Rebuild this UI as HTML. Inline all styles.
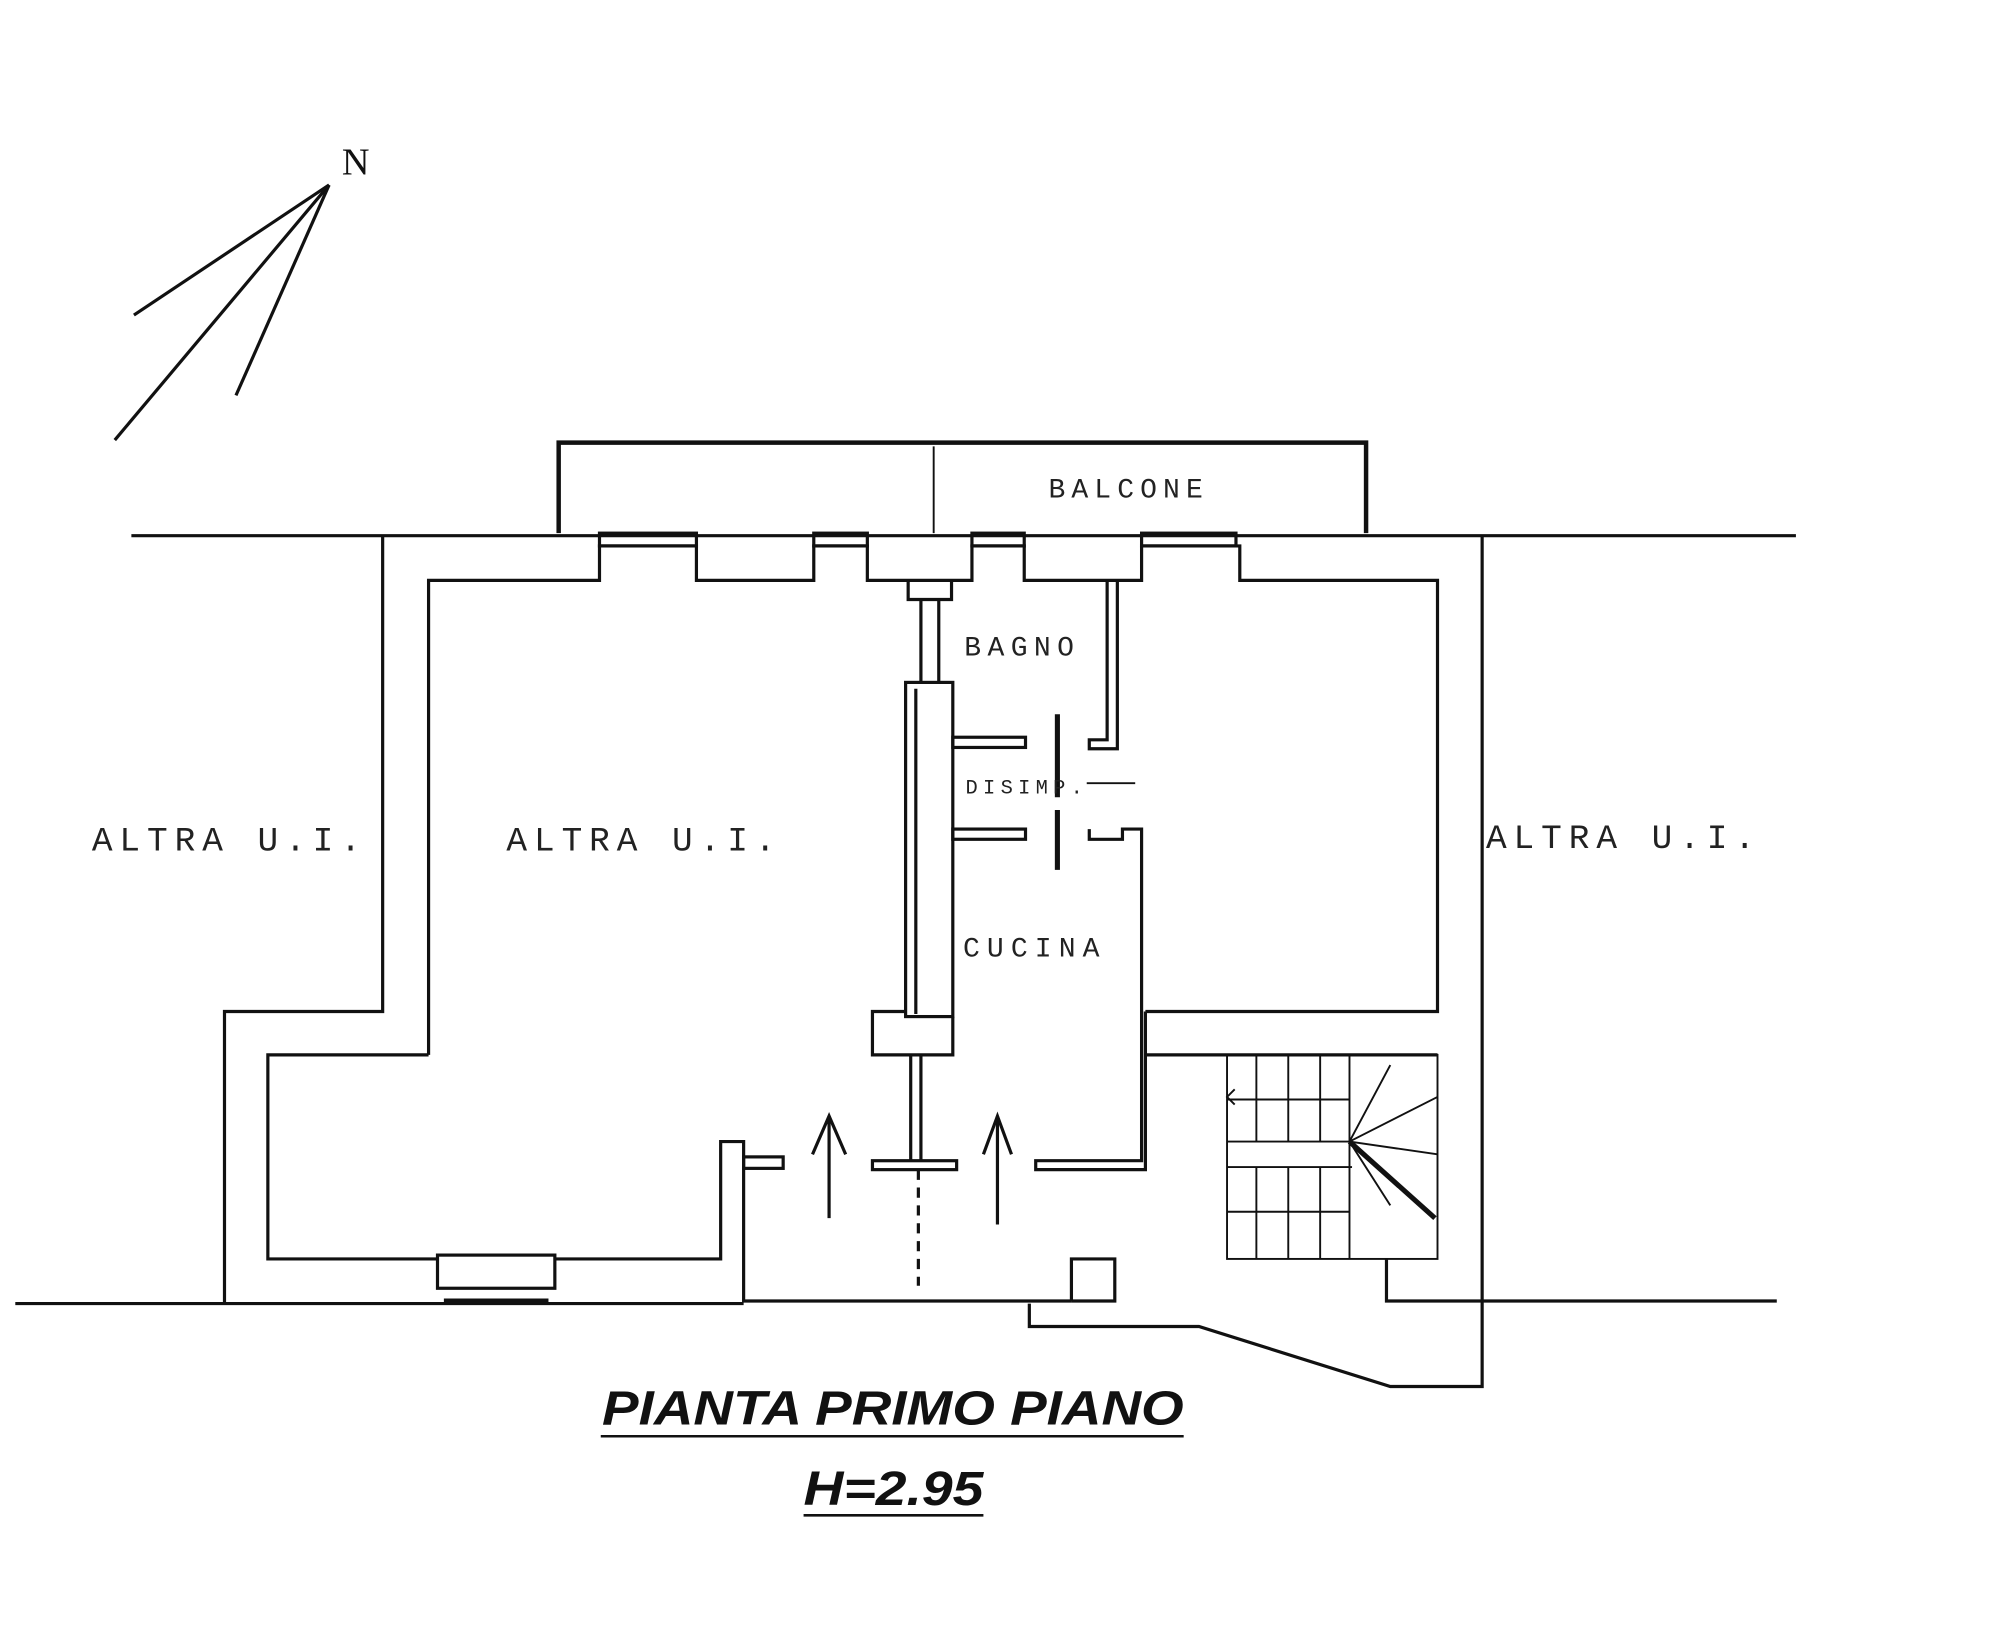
<!DOCTYPE html>
<html><head><meta charset="utf-8"><style>html,body{margin:0;padding:0;background:#fff}svg{display:block}</style></head>
<body>
<svg width="2000" height="1625" viewBox="0 0 1568 1274" xmlns="http://www.w3.org/2000/svg" font-family="'Liberation Mono', monospace" fill="none" stroke="#111" stroke-width="2.5">
<!-- compass -->
<text x="268" y="137" font-family="'Liberation Serif',serif" font-size="30" fill="#111" stroke="none">N</text>
<line x1="258" y1="145" x2="105" y2="247"/>
<line x1="258" y1="145" x2="90" y2="345"/>
<line x1="258" y1="145" x2="185" y2="310"/>
<!-- balcony -->
<polyline points="438,418 438,347 1071,347 1071,418" stroke-width="3.5"/>
<line x1="732" y1="350" x2="732" y2="418" stroke-width="1.5"/>
<text x="822" y="390" font-size="22" fill="#222" stroke="none" textLength="121" lengthAdjust="spacing">BALCONE</text>
<!-- top outer line -->
<line x1="103" y1="420" x2="1408" y2="420"/>
<!-- left outer -->
<polyline points="300,420 300,793 176,793 176,1022"/>
<line x1="12" y1="1022" x2="583" y2="1022"/>
<!-- left room inner -->
<polyline points="336,827 336,455 470,455 470,428 546,428 546,455 638,455 638,428 680,428 680,455 762,455 762,428 803,428 803,455 895,455 895,428 972,428 972,455 1127,455 1127,793 898,793"/>
<polyline points="336,827 210,827 210,987 343,987"/>
<polyline points="435,987 565,987 565,895 583,895 583,1020 840,1020"/>
<rect x="343" y="984" width="92" height="26"/>
<line x1="348" y1="1020" x2="430" y2="1020" stroke-width="4"/>
<rect x="470" y="418" width="76" height="10"/><rect x="638" y="418" width="42" height="10"/><rect x="762" y="418" width="41" height="10"/><rect x="895" y="418" width="74" height="10"/>
<!-- bagno column -->
<polyline points="712,455 712,470 746,470 746,455"/>
<line x1="722" y1="470" x2="722" y2="535"/><line x1="736" y1="470" x2="736" y2="535"/>
<rect x="710" y="535" width="37" height="262"/>
<line x1="718" y1="540" x2="718" y2="795"/>
<polyline points="710,793 684,793 684,827 747,827 747,797"/>
<line x1="714" y1="827" x2="714" y2="910"/><line x1="722" y1="827" x2="722" y2="910"/>
<rect x="684" y="910" width="66" height="7"/>
<line x1="720" y1="917" x2="720" y2="1008" stroke-dasharray="8,6"/>
<text x="756" y="514" font-size="22" fill="#222" stroke="none" textLength="86" lengthAdjust="spacing">BAGNO</text>
<!-- disimp -->
<rect x="747" y="578" width="57" height="8"/><rect x="747" y="650" width="57" height="8"/>
<line x1="829" y1="560" x2="829" y2="625" stroke-width="4"/><line x1="829" y1="635" x2="829" y2="682" stroke-width="4"/>
<polyline points="868,455 868,580 854,580 854,587 876,587 876,455"/>
<polyline points="854,650 854,658 880,658 880,650 895,650 895,910 812,910 812,917 898,917 898,793"/>
<line x1="898" y1="827" x2="1127" y2="827"/>
<line x1="852" y1="614" x2="890" y2="614" stroke-width="1.5"/>
<text x="757" y="622" font-size="16" fill="#222" stroke="none" textLength="92" lengthAdjust="spacing">DISIMP.</text>
<text x="755" y="750" font-size="22" fill="#222" stroke="none" textLength="107" lengthAdjust="spacing">CUCINA</text>
<!-- door stub bottom -->
<rect x="583" y="907" width="31" height="9"/>
<!-- arrows -->
<line x1="650" y1="955" x2="650" y2="875"/><polyline points="637,905 650,875 663,905"/>
<line x1="782" y1="960" x2="782" y2="875"/><polyline points="771,905 782,875 793,905"/>
<!-- stairs -->
<rect x="962" y="827" width="165" height="160" stroke-width="1.5"/>
<line x1="962" y1="895" x2="1060" y2="895" stroke-width="1.5"/><line x1="962" y1="915" x2="1060" y2="915" stroke-width="1.5"/>
<g stroke-width="1.5">
<line x1="985" y1="827" x2="985" y2="895"/><line x1="1010" y1="827" x2="1010" y2="895"/><line x1="1035" y1="827" x2="1035" y2="895"/><line x1="1058" y1="827" x2="1058" y2="987"/>
<line x1="985" y1="915" x2="985" y2="987"/><line x1="1010" y1="915" x2="1010" y2="987"/><line x1="1035" y1="915" x2="1035" y2="987"/>
<line x1="962" y1="862" x2="1058" y2="862"/><line x1="962" y1="950" x2="1058" y2="950"/>
<line x1="1058" y1="895" x2="1090" y2="835"/><line x1="1058" y1="895" x2="1127" y2="860"/><line x1="1058" y1="895" x2="1127" y2="905"/><line x1="1058" y1="895" x2="1090" y2="945"/>
<polyline points="968,854 962,860 968,866"/>
</g>
<line x1="1058" y1="895" x2="1125" y2="955" stroke-width="4"/>
<!-- bottom right -->
<polyline points="840,1020 840,987 874,987 874,1020 840,1020"/>
<polyline points="807,1022 807,1040 940,1040 1090,1087 1162,1087 1162,420"/>
<polyline points="1087,987 1087,1020 1393,1020"/>
<!-- labels -->
<text x="72" y="667" font-size="27" fill="#222" stroke="none" textLength="211" lengthAdjust="spacing">ALTRA U.I.</text>
<text x="397" y="667" font-size="27" fill="#222" stroke="none" textLength="211" lengthAdjust="spacing">ALTRA U.I.</text>
<text x="1165" y="665" font-size="27" fill="#222" stroke="none" textLength="211" lengthAdjust="spacing">ALTRA U.I.</text>
<text x="472" y="1117" font-family="'Liberation Sans',sans-serif" font-size="38" font-weight="bold" font-style="italic" fill="#111" stroke="none" textLength="456" lengthAdjust="spacingAndGlyphs">PIANTA PRIMO PIANO</text>
<line x1="471" y1="1126" x2="928" y2="1126" stroke-width="2"/>
<text x="630" y="1180" font-family="'Liberation Sans',sans-serif" font-size="38" font-weight="bold" font-style="italic" fill="#111" stroke="none" textLength="141" lengthAdjust="spacingAndGlyphs">H=2.95</text>
<line x1="630" y1="1188" x2="771" y2="1188" stroke-width="2"/>
</svg>
</body></html>
